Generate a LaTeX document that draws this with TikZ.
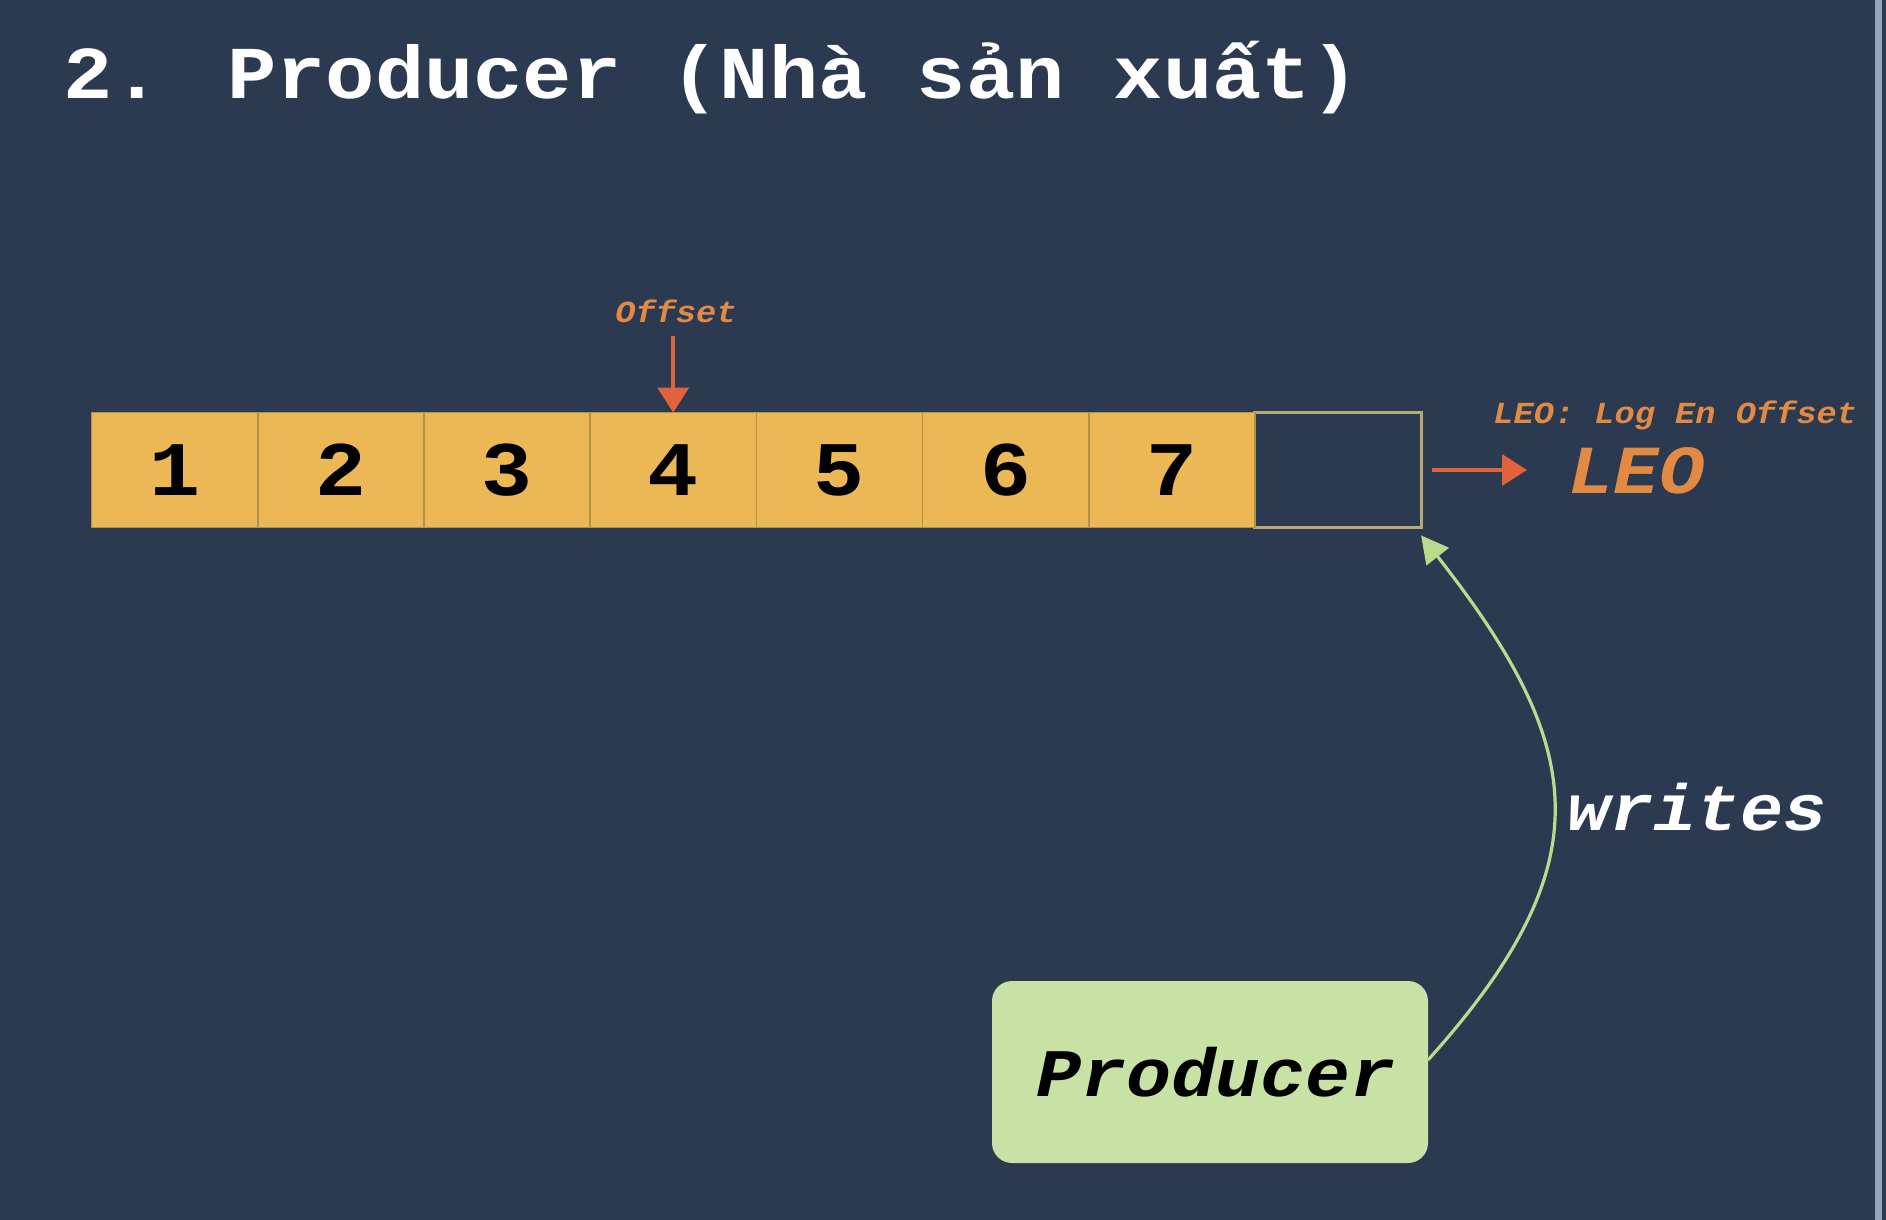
\documentclass[tikz,border=0pt]{standalone}
\usepackage{fontspec}
\usetikzlibrary{arrows.meta, positioning}
\newfontfamily\monofont[FakeStretch=1.1]{Liberation Mono}

\definecolor{slide}{RGB}{44,58,81}
\definecolor{edgeline}{RGB}{150,164,184}
\definecolor{cellfill}{RGB}{236,184,86}
\definecolor{cellline}{RGB}{176,146,72}
\definecolor{emptyline}{RGB}{184,168,118}
\definecolor{prodfill}{RGB}{200,226,166}
\definecolor{writeline}{RGB}{186,218,142}
\definecolor{noteorange}{RGB}{226,138,68}
\definecolor{pointer}{RGB}{226,98,60}

\begin{document}
\begin{tikzpicture}[x=0.5pt, y=0.5pt,
		title/.style={anchor=base west, inner sep=0pt, text=white, font={\monofont\bfseries\fontsize{37.3}{37.3}\selectfont}},
		cell/.style={draw=cellline, line width=0.8pt, fill=cellfill, minimum width=83.1pt, minimum height=57.4pt, inner sep=0pt, outer sep=0pt, text=black, font={\monofont\bfseries\fontsize{38.6}{38.6}\selectfont}},
		emptycell/.style={draw=emptyline, line width=1.5pt, minimum width=83.1pt, minimum height=57.4pt, inner sep=0pt, outer sep=0pt},
		note/.style={inner sep=0pt, text=noteorange, font={\monofont\bfseries\itshape\fontsize{15.3}{15.3}\selectfont}},
		leo/.style={anchor=base west, inner sep=0pt, text=noteorange, font={\monofont\bfseries\itshape\fontsize{34.4}{34.4}\selectfont}},
		producer/.style={fill=prodfill, rounded corners=10pt, minimum width=218pt, minimum height=91pt, inner sep=0pt, outer sep=0pt, text=black, font={\monofont\bfseries\itshape\fontsize{34}{34}\selectfont}},
		writes/.style={anchor=base, inner sep=0pt, text=white, font={\monofont\bfseries\itshape\fontsize{32.7}{32.7}\selectfont}},
		pointerarrow/.style={draw=pointer, line width=1.8pt, -{Triangle[length=12.5pt, width=15.5pt]}},
		writesarrow/.style={draw=writeline, line width=1.6pt, -{Triangle[length=13.5pt, width=14pt]}}]
	\useasboundingbox (0,0) rectangle (1886,-1220);

	% Draw the slide
	\fill[slide] (0,0) rectangle (1886,-1220);
	\fill[edgeline] (1875,0) rectangle (1882,-1220);

	\node[title] (title) at (63,-99) {2. Producer (Nhà sản xuất)};

	% Draw the log cells
	\node[emptycell] (c8) at (1338.0,-470) {};
	\node[cell] (c1) at (174.6,-470) {1};
	\node[cell] (c2) at (340.8,-470) {2};
	\node[cell] (c3) at (507.0,-470) {3};
	\node[cell] (c4) at (673.2,-470) {4};
	\node[cell] (c5) at (839.4,-470) {5};
	\node[cell] (c6) at (1005.6,-470) {6};
	\node[cell] (c7) at (1171.8,-470) {7};

	% Draw the offset pointer
	\node[note, anchor=base] (offset) at (676,-322) {Offset};
	\draw[pointerarrow, shorten <=6.5pt] (c4.north |- offset.south) -- (c4.north);

	% Draw the log end offset
	\node[note, anchor=base west] (leonote) at (1493,-423) {LEO: Log En Offset};
	\node[leo] (leo) at (1568,-493) {LEO};
	\draw[pointerarrow, shorten <=5.5pt, shorten >=20.5pt] (c8.east) -- (c8.east -| leo.west);

	% Draw the producer writing into the log
	\node[producer] (producer) at (1210,-1072) {\hspace*{6pt}Producer};
	\node[writes] (writes) at (1697,-830) {writes};
	\draw[writesarrow] ([yshift=6pt]producer.east) to[out=48, in=-52, looseness=1.3] ([yshift=-4pt]c8.south east);
\end{tikzpicture}
\end{document}
